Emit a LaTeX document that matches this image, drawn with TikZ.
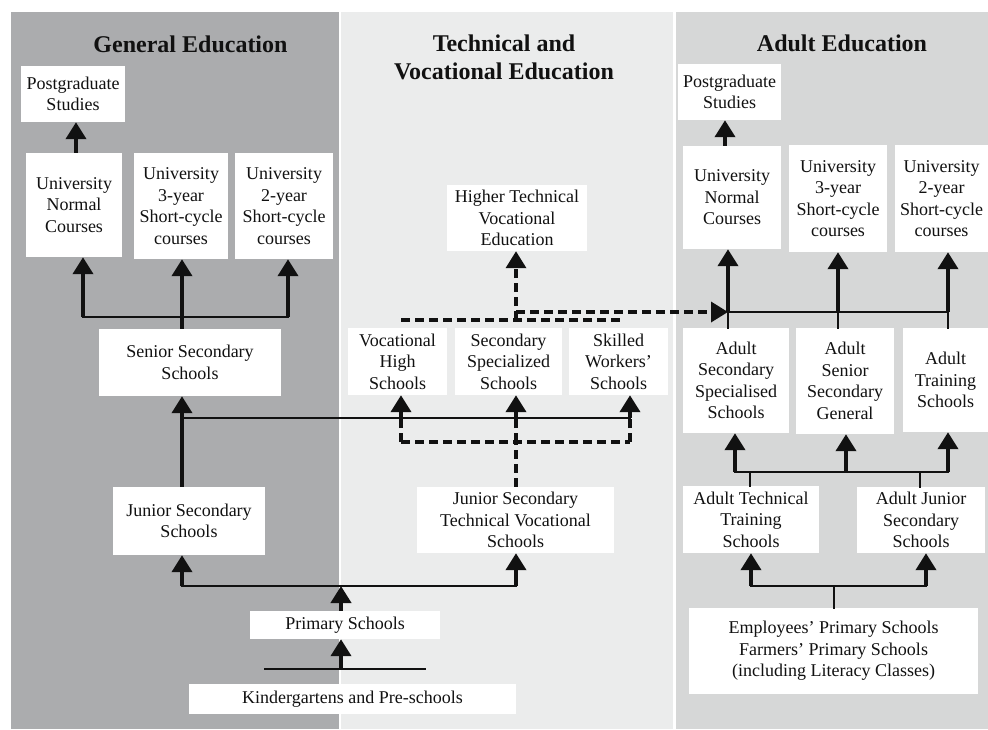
\documentclass[tikz,border=0pt]{standalone}
\usepackage{fontspec}
\setmainfont{Liberation Serif}
\usetikzlibrary{arrows.meta}
\definecolor{panelA}{HTML}{ABACAE}
\definecolor{panelB}{HTML}{EBECEC}
\definecolor{panelC}{HTML}{D6D7D7}
\definecolor{ink}{HTML}{111111}
\begin{document}
\begin{tikzpicture}[x=1pt,y=-1pt,
  box/.style={fill=white, inner sep=0pt, align=center, font=\fontsize{18}{21.5}\selectfont, text=ink},
  sz/.style 2 args={minimum width=#1pt, minimum height=#2pt},
  ttl/.style={align=center, font=\fontsize{24}{28}\selectfont\bfseries, inner sep=0pt, text=ink},
  tip/.style={-{Triangle[width=20pt,length=17pt]}},
  arr/.style={draw=ink, line width=4pt, tip},
  dsh/.style={draw=ink, line width=3.5pt, dash pattern=on 9pt off 5pt},
  dsharr/.style={dsh, tip},
  thn/.style={draw=ink, line width=2pt, line cap=rect},
  mid/.style={draw=ink, line width=2.6pt, line cap=rect}]
\useasboundingbox (0,0) rectangle (988,729);
\fill[white] (0,0) rectangle (988,729);
\fill[panelA] (11,12) rectangle (339,729);
\fill[panelB] (341,12) rectangle (673,729);
\fill[panelC] (676,12) rectangle (988,729);

% titles
\node[ttl] (tG) at (190.5,44) {General Education};
\node[ttl] (tT) at (504,57) {Technical and\\Vocational Education};
\node[ttl] (tA) at (842,43) {Adult Education};

% general education
\node[box,sz={104}{56}] (pgL) at (73,94) {Postgraduate\\Studies};
\node[box,sz={96}{104}] (unL) at (74,205) {University\\Normal\\Courses};
\node[box,sz={94}{106}] (u3L) at (181,206) {University\\3-year\\Short-cycle\\courses};
\node[box,sz={98}{106}] (u2L) at (284,206) {University\\2-year\\Short-cycle\\courses};
\node[box,sz={182}{67}] (ssL) at (190,362.5) {Senior Secondary\\Schools};
\node[box,sz={152}{68}] (jsL) at (189,521) {Junior Secondary\\Schools};
\node[box,sz={190}{28}] (prim) at (345,625) {Primary Schools};
\node[box,sz={327}{30}] (kind) at (352.5,699) {Kindergartens and Pre-schools};

% technical and vocational
\node[box,sz={140}{66}] (htv) at (517,218) {Higher Technical\\Vocational\\Education};
\node[box,sz={99}{67}] (vhs) at (397.5,361.5) {Vocational\\High\\Schools};
\node[box,sz={107}{67}] (sss) at (508.5,361.5) {Secondary\\Specialized\\Schools};
\node[box,sz={99}{67}] (sws) at (618.5,361.5) {Skilled\\Workers’\\Schools};
\node[box,sz={197}{66}] (jstv) at (515.5,520) {Junior Secondary\\Technical Vocational\\Schools};

% adult
\node[box,sz={103}{56}] (pgR) at (729.5,92) {Postgraduate\\Studies};
\node[box,sz={98}{103}] (unR) at (732,197.5) {University\\Normal\\Courses};
\node[box,sz={98}{107}] (u3R) at (838,198.5) {University\\3-year\\Short-cycle\\courses};
\node[box,sz={93}{107}] (u2R) at (941.5,198.5) {University\\2-year\\Short-cycle\\courses};
\node[box,sz={106}{105}] (ass) at (736,380.5) {Adult\\Secondary\\Specialised\\Schools};
\node[box,sz={98}{106}] (asg) at (845,381) {Adult\\Senior\\Secondary\\General};
\node[box,sz={85}{104}] (ats) at (945.5,380) {Adult\\Training\\Schools};
\node[box,sz={136}{67}] (att) at (751,519.5) {Adult Technical\\Training\\Schools};
\node[box,sz={128}{66}] (ajs) at (921,520) {Adult Junior\\Secondary\\Schools};
\node[box,sz={289}{86}] (emp) at (833.5,651) {Employees’ Primary Schools\\Farmers’ Primary Schools\\(including Literacy Classes)};

% ---- connectors: general education
\coordinate (pgx) at (76,0);
\draw[arr] (pgx |- unL.north) -- (pgx |- pgL.south);
\coordinate (a1) at (83,317);
\coordinate (a2) at (182,317);
\coordinate (a3) at (288,317);
\draw[mid] (a1) -- (a3);
\draw[arr] (a1) -- (a1 |- unL.south);
\draw[arr] (a2 |- ssL.north) -- (a2 |- u3L.south);
\draw[arr] (a3) -- (a3 |- u2L.south);
\draw[arr] (a2 |- jsL.north) -- (a2 |- ssL.south);

\coordinate (t1) at (182,418);
\coordinate (t2) at (630,418);
\draw[thn] (t1) -- (t2);

\coordinate (g1) at (182,586);
\coordinate (g2) at (516,586);
\coordinate (gc) at (341,586);
\draw[mid] (g1) -- (g2);
\draw[arr] (g1) -- (g1 |- jsL.south);
\draw[arr] (g2) -- (g2 |- jstv.south);
\draw[arr] (gc |- prim.north) -- (gc);
\coordinate (k1) at (265,669);
\coordinate (k2) at (425,669);
\coordinate (kc) at (341,669);
\draw[thn] (k1) -- (k2);
\draw[arr] (kc) -- (kc |- prim.south);

% ---- connectors: technical and vocational
\coordinate (d1) at (401,442);
\coordinate (d2) at (516,442);
\coordinate (d3) at (630,442);
\draw[dsh] (d1) -- (d3);
\draw[dsh] (d2 |- jstv.north) -- (d2);
\draw[dsh] (d1) -- (d1 |- t1);
\draw[dsh] (d3) -- (d3 |- t1);
\draw[dsh] (d2) -- (d2 |- t1);
\draw[arr] (d1 |- t1) -- (d1 |- vhs.south);
\draw[arr] (d2 |- t1) -- (d2 |- sss.south);
\draw[arr] (d3 |- t1) -- (d3 |- sws.south);

\coordinate (e1) at (401,320);
\coordinate (e2) at (623,320);
\coordinate (e3) at (516,320);
\coordinate (f1) at (516,312);
\coordinate (r1) at (728,312);
\coordinate (r2) at (838,312);
\coordinate (r3) at (948,312);
\draw[dsh] (e1) -- (e2);
\draw[dsharr] (e3) -- (e3 |- htv.south);
\draw[dsh] (e3) -- (f1);
\draw[dsharr] (f1) -- (r1);

% ---- connectors: adult
\coordinate (px) at (725,0);
\draw[arr] (px |- unR.north) -- (px |- pgR.south);
\draw[thn] (r1) -- (r3);
\draw[thn] (r1 |- ass.north) -- (r1);
\draw[thn] (r2 |- asg.north) -- (r2);
\draw[thn] (r3 |- ats.north) -- (r3);
\draw[arr] (r1) -- (r1 |- unR.south);
\draw[arr] (r2) -- (r2 |- u3R.south);
\draw[arr] (r3) -- (r3 |- u2R.south);

\coordinate (m1) at (735,472);
\coordinate (m2) at (846,472);
\coordinate (m3) at (948,472);
\coordinate (n1) at (750,472);
\coordinate (n2) at (920,472);
\draw[thn] (m1) -- (m3);
\draw[thn] (n1 |- att.north) -- (n1);
\draw[thn] (n2 |- ajs.north) -- (n2);
\draw[arr] (m1) -- (m1 |- ass.south);
\draw[arr] (m2) -- (m2 |- asg.south);
\draw[arr] (m3) -- (m3 |- ats.south);

\coordinate (b1) at (751,586);
\coordinate (b2) at (926,586);
\coordinate (bc) at (834,586);
\draw[thn] (b1) -- (b2);
\draw[thn] (bc |- emp.north) -- (bc);
\draw[arr] (b1) -- (b1 |- att.south);
\draw[arr] (b2) -- (b2 |- ajs.south);
\end{tikzpicture}
\end{document}
